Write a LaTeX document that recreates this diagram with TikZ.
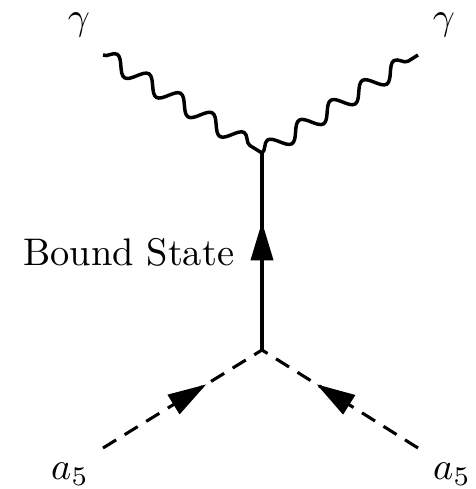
\documentclass[tikz,border=0pt]{standalone}
\usetikzlibrary{arrows.meta,decorations.pathmorphing,decorations.markings}
\tikzset{
  photon/.style={
    decorate,
    decoration={snake, amplitude=2.1pt, segment length=9.7pt},
    line width=0.9pt
  },
  fermion/.style={
    line width=0.8pt,
    postaction={decorate},
    decoration={markings,
      mark=at position 0.65 with {\arrow{Triangle[length=10pt,width=5.8pt]}}}
  },
  scalar/.style={
    fermion,
    dash pattern=on 4pt off 2.6pt
  },
  label/.style={inner sep=0pt}
}
\begin{document}
\begin{tikzpicture}[x=0.26pt, y=-0.26pt]
\useasboundingbox (0,0) rectangle (475,489);
% vertices and external legs
\coordinate (top) at (262,153);
\coordinate (bot) at (262,350);
\coordinate (gl) at (103,55);
\coordinate (gr) at (418,55);
\coordinate (al) at (103,448);
\coordinate (ar) at (418,448);
% lines
\draw[photon] (gl) -- (top);
\draw[photon] (top) -- (gr);
\draw[fermion] (bot) -- (top);
\draw[scalar] (al) -- (bot);
\draw[scalar] (ar) -- (bot);
% labels
\node[label] (gammal) at (79,25) {$\gamma$};
\node[label] (gammar) at (444,25) {$\gamma$};
\node[label, anchor=base east] (bs) at (235,265) {Bound State};
\node[label] (a5l) at (70,474) {$a_5$};
\node[label] (a5r) at (452,474) {$a_5$};
\end{tikzpicture}
\end{document}
